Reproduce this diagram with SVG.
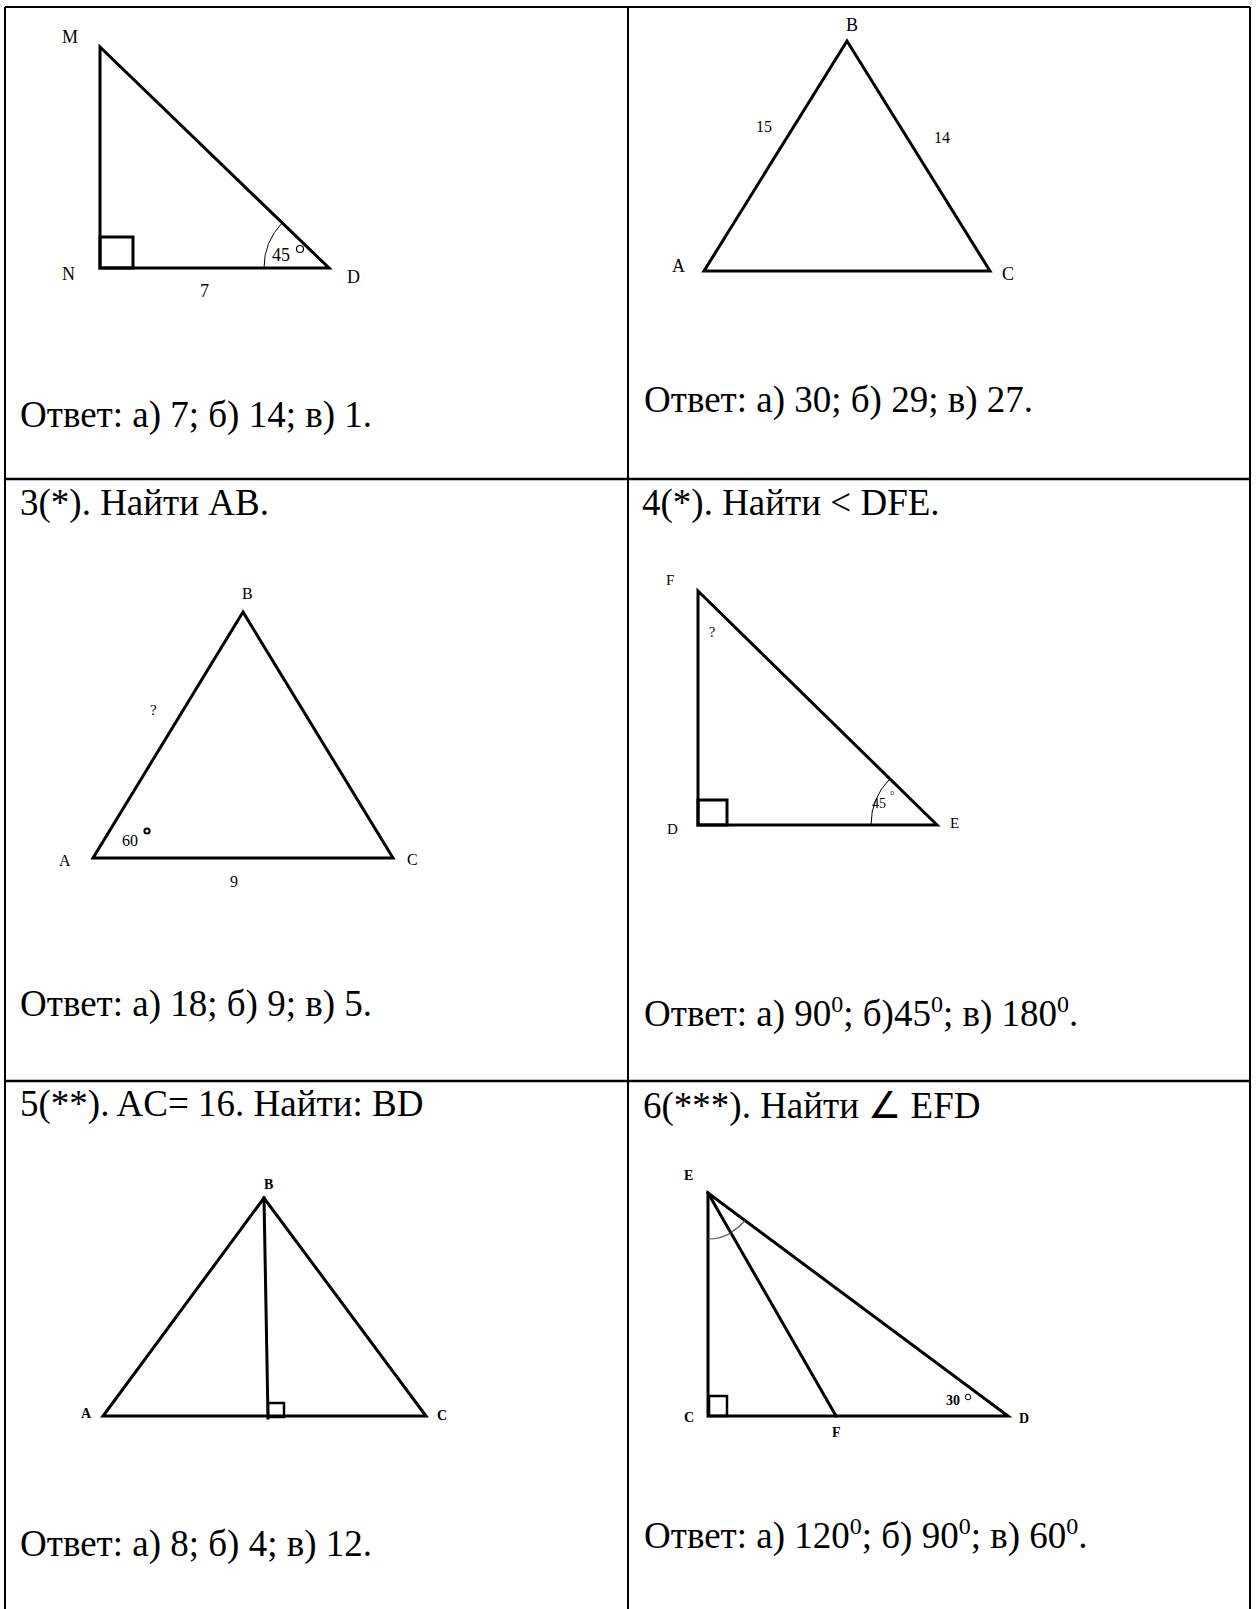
<svg xmlns="http://www.w3.org/2000/svg" width="1257" height="1609" viewBox="0 0 1257 1609">
<style>
.t{font-family:"Liberation Serif","Times New Roman",serif;fill:#000}
.big{font-size:37px}
.l18{font-size:18px}
.l16{font-size:16px}
.l15{font-size:15px}
.l14{font-size:14px}
.b{font-weight:bold}
.fig{fill:none;stroke:#000;stroke-width:3;stroke-linejoin:miter;stroke-linecap:square}
.sq{fill:none;stroke:#000;stroke-width:3}
.arc{fill:none;stroke:#000;stroke-width:1}
.grid{stroke:#000;stroke-width:2;fill:none}
</style>
<g id="table">
<line class="grid" x1="5" y1="7" x2="1250" y2="7"/>
<line class="grid" x1="5" y1="7" x2="5" y2="1609"/>
<line class="grid" x1="628" y1="7" x2="628" y2="1609"/>
<line class="grid" x1="1250" y1="7" x2="1250" y2="1609"/>
<line class="grid" x1="5" y1="479" x2="1250" y2="479" style="stroke-width:2.5"/>
<line class="grid" x1="5" y1="1081" x2="1250" y2="1081" style="stroke-width:2.5"/>
</g>
<g id="cell1">
<polygon class="fig" points="100,47 100,268 329,268"/>
<rect class="sq" x="100" y="237" width="33" height="31"/>
<path class="arc" d="M264,268 A65,65 0 0 1 282.4,222.7"/>
<text class="t l18" x="272" y="261">45</text>
<circle cx="300" cy="249" r="3.5" fill="none" stroke="#000" stroke-width="1.2"/>
<text class="t l18" x="62" y="43">M</text>
<text class="t l18" x="62" y="280">N</text>
<text class="t l18" x="347" y="283">D</text>
<text class="t l18" x="200" y="297">7</text>
<text class="t big" x="20" y="427">Ответ: а) 7; б) 14; в) 1.</text>
</g>
<g id="cell2">
<polygon class="fig" points="847,41 704,271 990,271"/>
<text class="t l18" x="846" y="31">B</text>
<text class="t l16" x="756" y="132">15</text>
<text class="t l16" x="934" y="143">14</text>
<text class="t l18" x="672" y="272">A</text>
<text class="t l18" x="1002" y="280">C</text>
<text class="t big" x="644" y="412">Ответ: а) 30; б) 29; в) 27.</text>
</g>
<g id="cell3">
<text class="t big" x="20" y="515">3(*). Найти АВ.</text>
<polygon class="fig" points="243,612 93,858 393,858"/>
<text class="t l16" x="242" y="599">B</text>
<text class="t l15" x="150" y="715">?</text>
<text class="t l16" x="122" y="846">60</text>
<circle cx="147" cy="831" r="2.6" fill="none" stroke="#000" stroke-width="2"/>
<text class="t l16" x="59" y="866">A</text>
<text class="t l16" x="407" y="865">C</text>
<text class="t l16" x="230" y="887">9</text>
<text class="t big" x="20" y="1016">Ответ: а) 18; б) 9; в) 5.</text>
</g>
<g id="cell4">
<text class="t big" x="642" y="515">4(*). Найти &lt; DFE.</text>
<polygon class="fig" points="698,591 698,825 937,825"/>
<rect class="sq" x="698" y="800" width="29" height="25"/>
<path class="arc" d="M871,825 A66,66 0 0 1 889.8,778.8"/>
<text class="t l14" x="872" y="808">45</text>
<text class="t" style="font-size:11px" x="890" y="799">°</text>
<text class="t l14" x="709" y="637">?</text>
<text class="t l15" x="666" y="585">F</text>
<text class="t l15" x="667" y="834">D</text>
<text class="t l15" x="950" y="828">E</text>
<text class="t big" x="644" y="1026">Ответ: а) 90<tspan dy="-14" font-size="24">0</tspan><tspan dy="14">; б)45</tspan><tspan dy="-14" font-size="24">0</tspan><tspan dy="14">; в) 180</tspan><tspan dy="-14" font-size="24">0</tspan><tspan dy="14">.</tspan></text>
</g>
<g id="cell5">
<text class="t big" x="20" y="1116">5(**). AC= 16. Найти: BD</text>
<polygon class="fig" points="264,1198 103,1416 426,1416"/>
<line class="fig" x1="264" y1="1198" x2="268" y2="1418"/>
<rect class="sq" x="268" y="1403" width="16" height="14" style="stroke-width:2.5"/>
<text class="t l14 b" x="264" y="1189">B</text>
<text class="t l14 b" x="81" y="1418">A</text>
<text class="t l14 b" x="437" y="1420">C</text>
<text class="t big" x="20" y="1556">Ответ: а) 8; б) 4; в) 12.</text>
</g>
<g id="cell6">
<text class="t big" x="643" y="1118">6(***). Найти ∠ EFD</text>
<polygon class="fig" points="708,1193 708,1416 1008,1416"/>
<line class="fig" x1="708" y1="1193" x2="836" y2="1416"/>
<rect class="sq" x="709" y="1396" width="18" height="20" style="stroke-width:2.5"/>
<path d="M708,1239 A46,46 0 0 0 730.9,1232.9" fill="none" stroke="#555" stroke-width="1.2"/>
<path d="M731.5,1232 A46,46 0 0 0 744.9,1220.4" fill="none" stroke="#555" stroke-width="1.2"/>
<text class="t l14 b" x="946" y="1405">30</text>
<circle cx="968" cy="1397" r="2.8" fill="none" stroke="#000" stroke-width="1"/>
<text class="t l14 b" x="684" y="1180">E</text>
<text class="t l14 b" x="684" y="1422">C</text>
<text class="t l14 b" x="832" y="1437">F</text>
<text class="t l14 b" x="1019" y="1423">D</text>
<text class="t big" x="644" y="1548">Ответ: а) 120<tspan dy="-14" font-size="24">0</tspan><tspan dy="14">; б) 90</tspan><tspan dy="-14" font-size="24">0</tspan><tspan dy="14">; в) 60</tspan><tspan dy="-14" font-size="24">0</tspan><tspan dy="14">.</tspan></text>
</g>
</svg>
